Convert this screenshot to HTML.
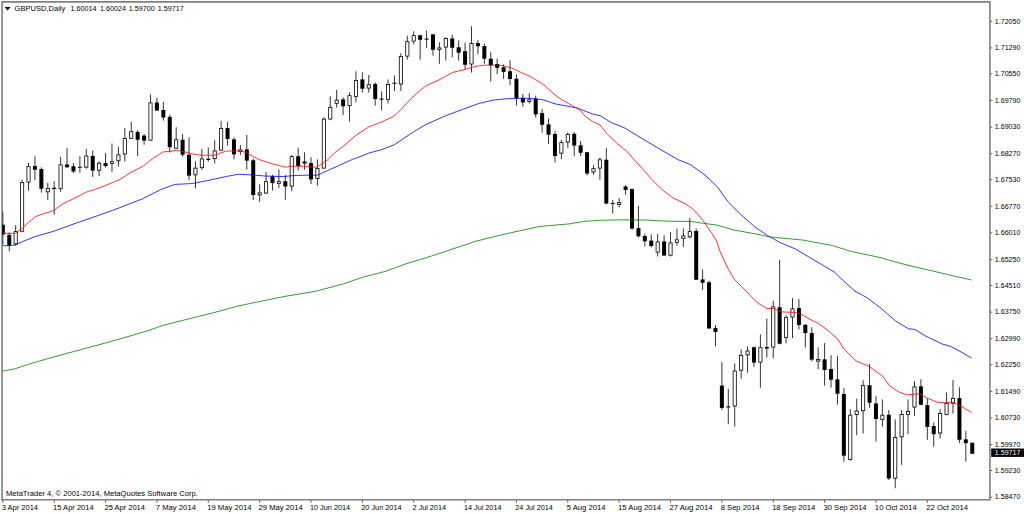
<!DOCTYPE html>
<html lang="en"><head><meta charset="utf-8"><title>GBPUSD,Daily</title>
<style>html,body{margin:0;padding:0;background:#fff;overflow:hidden}svg{display:block}text{font-family:"Liberation Sans", sans-serif;font-size:8.1px;fill:#000}.w{stroke:#000;stroke-width:.8;fill:none}.f{fill:#000;stroke:none}.h{fill:#fff;stroke:#000;stroke-width:.8}.ma{fill:none;stroke-width:.8;stroke-linejoin:round}.ax{stroke:#808080;stroke-width:1.6;fill:none}.tk{stroke:#222;stroke-width:.8}</style></head><body>
<svg width="1024" height="514" viewBox="0 0 1024 514">
<rect width="1024" height="514" fill="#fff"/>
<path class="ax" d="M2.1 500.5V1.9H989.9V499.75"/>
<path class="ax" d="M1.3 499.75H990.7"/>
<clipPath id="cc"><rect x="2.3" y="0" width="990" height="514"/></clipPath><g clip-path="url(#cc)">
<path class="w" d="M2.84 211.60V244.50"/>
<rect class="f" x="0.84" y="224.75" width="4" height="9.85"/>
<path class="w" d="M9.26 232.25V251.50"/>
<rect class="f" x="7.26" y="234.90" width="4" height="10.60"/>
<path class="w" d="M15.68 225.20V245.75"/>
<rect class="h" x="14.08" y="231.60" width="3.2" height="12.30"/>
<path class="w" d="M22.10 179.75V232.25"/>
<rect class="h" x="20.50" y="182.65" width="3.2" height="48.55"/>
<path class="w" d="M28.52 162.75V190.75"/>
<rect class="h" x="26.92" y="166.65" width="3.2" height="15.45"/>
<path class="w" d="M34.94 156.25V180.00"/>
<rect class="f" x="32.94" y="166.00" width="4" height="3.75"/>
<path class="w" d="M41.36 167.50V192.50"/>
<rect class="f" x="39.36" y="169.00" width="4" height="19.75"/>
<path class="w" d="M47.78 183.00V200.00"/>
<rect class="h" x="46.18" y="188.40" width="3.2" height="3.45"/>
<path class="w" d="M54.20 181.25V214.50"/>
<path class="w" style="stroke-width:1.1" d="M52.20 188.40H56.20"/>
<path class="w" d="M60.62 156.90V192.10"/>
<rect class="h" x="59.02" y="164.80" width="3.2" height="23.55"/>
<path class="w" d="M67.04 148.10V168.00"/>
<rect class="f" x="65.04" y="164.40" width="4" height="2.70"/>
<path class="w" d="M73.46 163.10V173.10"/>
<rect class="f" x="71.46" y="166.25" width="4" height="5.25"/>
<path class="w" d="M79.88 156.25V172.75"/>
<path class="w" style="stroke-width:1.1" d="M77.88 167.25H81.88"/>
<path class="w" d="M86.30 149.00V168.75"/>
<rect class="h" x="84.70" y="156.00" width="3.2" height="11.10"/>
<path class="w" d="M92.72 150.60V176.90"/>
<rect class="f" x="90.72" y="155.90" width="4" height="14.70"/>
<path class="w" d="M99.14 161.25V176.25"/>
<rect class="h" x="97.54" y="163.15" width="3.2" height="7.05"/>
<path class="w" d="M105.56 153.10V167.50"/>
<rect class="f" x="103.56" y="163.10" width="4" height="2.90"/>
<path class="w" d="M111.98 143.50V171.90"/>
<rect class="h" x="110.38" y="161.65" width="3.2" height="1.70"/>
<path class="w" d="M118.40 146.90V166.50"/>
<rect class="h" x="116.80" y="154.80" width="3.2" height="6.05"/>
<path class="w" d="M124.82 128.10V161.50"/>
<rect class="h" x="123.22" y="138.50" width="3.2" height="15.50"/>
<path class="w" d="M131.24 121.90V139.00"/>
<rect class="h" x="129.64" y="131.65" width="3.2" height="6.70"/>
<path class="w" d="M137.66 130.25V156.00"/>
<rect class="f" x="135.66" y="131.90" width="4" height="7.85"/>
<path class="w" d="M144.08 134.00V144.75"/>
<rect class="f" x="142.08" y="135.60" width="4" height="5.00"/>
<path class="w" d="M150.50 94.40V140.60"/>
<rect class="h" x="148.90" y="102.90" width="3.2" height="37.30"/>
<path class="w" d="M156.92 97.75V111.00"/>
<rect class="f" x="154.92" y="102.50" width="4" height="8.10"/>
<path class="w" d="M163.34 101.90V120.60"/>
<rect class="f" x="161.34" y="110.00" width="4" height="7.50"/>
<path class="w" d="M169.76 114.75V152.50"/>
<rect class="f" x="167.76" y="116.90" width="4" height="30.35"/>
<path class="w" d="M176.18 127.25V148.60"/>
<rect class="h" x="174.58" y="139.80" width="3.2" height="8.40"/>
<path class="w" d="M182.60 134.00V156.90"/>
<rect class="f" x="180.60" y="139.75" width="4" height="15.00"/>
<path class="w" d="M189.02 137.25V180.00"/>
<rect class="f" x="187.02" y="154.75" width="4" height="20.85"/>
<path class="w" d="M195.44 161.25V188.50"/>
<rect class="h" x="193.84" y="168.15" width="3.2" height="6.70"/>
<path class="w" d="M201.86 149.00V169.75"/>
<rect class="h" x="200.26" y="158.90" width="3.2" height="8.80"/>
<path class="w" d="M208.28 147.50V161.50"/>
<path class="w" style="stroke-width:1.1" d="M206.28 159.40H210.28"/>
<path class="w" d="M214.70 140.25V163.50"/>
<rect class="h" x="213.10" y="151.00" width="3.2" height="7.60"/>
<path class="w" d="M221.12 121.00V150.60"/>
<rect class="h" x="219.52" y="128.50" width="3.2" height="21.70"/>
<path class="w" d="M227.54 121.90V145.60"/>
<rect class="f" x="225.54" y="128.10" width="4" height="10.90"/>
<path class="w" d="M233.96 137.25V159.40"/>
<rect class="f" x="231.96" y="139.40" width="4" height="15.00"/>
<path class="w" d="M240.38 145.00V155.00"/>
<rect class="h" x="238.78" y="149.90" width="3.2" height="1.60"/>
<path class="w" d="M246.80 135.00V169.60"/>
<rect class="f" x="244.80" y="149.40" width="4" height="11.20"/>
<path class="w" d="M253.22 158.50V200.00"/>
<rect class="f" x="251.22" y="160.25" width="4" height="34.75"/>
<path class="w" d="M259.64 184.40V201.90"/>
<rect class="h" x="258.04" y="192.90" width="3.2" height="1.95"/>
<path class="w" d="M266.06 171.90V193.50"/>
<rect class="h" x="264.46" y="181.65" width="3.2" height="11.45"/>
<path class="w" d="M272.48 175.00V190.60"/>
<rect class="f" x="270.48" y="176.25" width="4" height="6.85"/>
<path class="w" d="M278.90 169.40V188.10"/>
<rect class="h" x="277.30" y="181.65" width="3.2" height="1.70"/>
<path class="w" d="M285.32 175.00V199.75"/>
<rect class="f" x="283.32" y="181.25" width="4" height="5.25"/>
<path class="w" d="M291.74 155.00V191.25"/>
<rect class="h" x="290.14" y="156.65" width="3.2" height="29.45"/>
<path class="w" d="M298.16 147.75V170.60"/>
<rect class="f" x="296.16" y="156.25" width="4" height="9.75"/>
<path class="w" d="M304.58 152.25V169.75"/>
<rect class="f" x="302.58" y="161.50" width="4" height="2.00"/>
<path class="w" d="M311.00 157.25V184.00"/>
<rect class="f" x="309.00" y="163.10" width="4" height="16.30"/>
<path class="w" d="M317.42 159.40V185.60"/>
<rect class="h" x="315.82" y="168.50" width="3.2" height="10.10"/>
<path class="w" d="M323.84 117.25V168.50"/>
<rect class="h" x="322.24" y="119.15" width="3.2" height="48.95"/>
<path class="w" d="M330.26 96.25V120.25"/>
<rect class="h" x="328.66" y="107.30" width="3.2" height="11.70"/>
<path class="w" d="M336.68 90.00V107.50"/>
<rect class="h" x="335.08" y="100.15" width="3.2" height="3.20"/>
<path class="w" d="M343.10 97.50V115.00"/>
<rect class="f" x="341.10" y="99.40" width="4" height="6.85"/>
<path class="w" d="M349.52 92.25V121.50"/>
<rect class="h" x="347.92" y="95.65" width="3.2" height="10.05"/>
<path class="w" d="M355.94 71.25V102.25"/>
<rect class="h" x="354.34" y="80.40" width="3.2" height="16.10"/>
<path class="w" d="M362.36 72.25V92.50"/>
<rect class="f" x="360.36" y="79.40" width="4" height="9.35"/>
<path class="w" d="M368.78 75.00V92.50"/>
<rect class="h" x="367.18" y="84.80" width="3.2" height="3.30"/>
<path class="w" d="M375.20 82.25V105.60"/>
<rect class="f" x="373.20" y="84.00" width="4" height="15.00"/>
<path class="w" d="M381.62 91.25V110.40"/>
<path class="w" style="stroke-width:1.1" d="M379.62 99.10H383.62"/>
<path class="w" d="M388.04 79.40V103.50"/>
<rect class="h" x="386.44" y="84.40" width="3.2" height="14.95"/>
<path class="w" d="M394.46 75.40V91.00"/>
<path class="w" style="stroke-width:1.1" d="M392.46 83.30H396.46"/>
<path class="w" d="M400.88 53.30V91.00"/>
<rect class="h" x="399.28" y="56.50" width="3.2" height="27.50"/>
<path class="w" d="M407.30 35.60V59.60"/>
<rect class="h" x="405.70" y="41.65" width="3.2" height="14.45"/>
<path class="w" d="M413.72 31.25V44.40"/>
<rect class="h" x="412.12" y="35.65" width="3.2" height="5.45"/>
<path class="w" d="M420.14 34.75V59.75"/>
<rect class="f" x="418.14" y="35.25" width="4" height="4.50"/>
<path class="w" d="M426.56 30.60V47.75"/>
<path class="w" style="stroke-width:1.1" d="M424.56 39.10H428.56"/>
<path class="w" d="M432.98 34.00V55.60"/>
<rect class="f" x="430.98" y="34.40" width="4" height="15.35"/>
<path class="w" d="M439.40 42.25V63.75"/>
<rect class="h" x="437.80" y="47.90" width="3.2" height="1.45"/>
<path class="w" d="M445.82 37.25V60.60"/>
<rect class="h" x="444.22" y="38.50" width="3.2" height="8.60"/>
<path class="w" d="M452.24 34.75V57.25"/>
<rect class="f" x="450.24" y="38.50" width="4" height="9.25"/>
<path class="w" d="M458.66 40.25V60.60"/>
<rect class="f" x="456.66" y="47.25" width="4" height="5.50"/>
<path class="w" d="M465.08 42.75V69.40"/>
<rect class="f" x="463.08" y="51.25" width="4" height="13.50"/>
<path class="w" d="M471.50 26.25V72.50"/>
<rect class="h" x="469.90" y="43.50" width="3.2" height="20.50"/>
<path class="w" d="M477.92 40.25V54.40"/>
<rect class="f" x="475.92" y="43.10" width="4" height="3.15"/>
<path class="w" d="M484.34 43.50V63.75"/>
<rect class="f" x="482.34" y="46.00" width="4" height="12.75"/>
<path class="w" d="M490.76 52.25V81.50"/>
<rect class="f" x="488.76" y="58.75" width="4" height="6.50"/>
<path class="w" d="M497.18 58.75V74.20"/>
<rect class="f" x="495.18" y="64.00" width="4" height="3.75"/>
<path class="w" d="M503.60 64.40V79.00"/>
<rect class="f" x="501.60" y="67.25" width="4" height="4.65"/>
<path class="w" d="M510.02 60.25V85.00"/>
<rect class="f" x="508.02" y="71.25" width="4" height="7.75"/>
<path class="w" d="M516.44 74.60V105.60"/>
<rect class="f" x="514.44" y="78.75" width="4" height="19.35"/>
<path class="w" d="M522.86 94.00V106.90"/>
<rect class="f" x="520.86" y="98.10" width="4" height="4.40"/>
<path class="w" d="M529.28 93.10V103.50"/>
<rect class="h" x="527.68" y="99.80" width="3.2" height="1.70"/>
<path class="w" d="M535.70 95.60V117.50"/>
<rect class="f" x="533.70" y="98.75" width="4" height="15.65"/>
<path class="w" d="M542.12 109.00V132.75"/>
<rect class="f" x="540.12" y="113.10" width="4" height="11.65"/>
<path class="w" d="M548.54 118.50V144.00"/>
<rect class="f" x="546.54" y="124.40" width="4" height="10.35"/>
<path class="w" d="M554.96 131.00V162.50"/>
<rect class="f" x="552.96" y="134.00" width="4" height="22.00"/>
<path class="w" d="M561.38 140.00V159.40"/>
<rect class="h" x="559.78" y="142.65" width="3.2" height="10.45"/>
<path class="w" d="M567.80 132.25V147.75"/>
<rect class="h" x="566.20" y="134.40" width="3.2" height="7.70"/>
<path class="w" d="M574.22 132.25V156.00"/>
<rect class="f" x="572.22" y="133.75" width="4" height="11.85"/>
<path class="w" d="M580.64 141.00V156.00"/>
<rect class="f" x="578.64" y="145.25" width="4" height="7.50"/>
<path class="w" d="M587.06 151.90V175.60"/>
<rect class="f" x="585.06" y="152.25" width="4" height="21.25"/>
<path class="w" d="M593.48 165.10V174.75"/>
<rect class="h" x="591.88" y="168.70" width="3.2" height="3.30"/>
<path class="w" d="M599.90 157.50V179.75"/>
<rect class="h" x="598.30" y="159.80" width="3.2" height="8.30"/>
<path class="w" d="M606.32 148.10V204.40"/>
<rect class="f" x="604.32" y="159.75" width="4" height="43.75"/>
<path class="w" d="M612.74 200.00V213.60"/>
<path class="w" style="stroke-width:1.1" d="M610.74 203.50H614.74"/>
<path class="w" d="M619.16 198.10V207.40"/>
<rect class="h" x="617.56" y="202.65" width="3.2" height="1.70"/>
<path class="w" d="M625.58 185.00V194.75"/>
<rect class="f" x="623.58" y="186.50" width="4" height="3.50"/>
<path class="w" d="M632.00 188.75V229.75"/>
<rect class="f" x="630.00" y="189.00" width="4" height="39.50"/>
<path class="w" d="M638.42 206.00V237.50"/>
<rect class="f" x="636.42" y="228.10" width="4" height="8.15"/>
<path class="w" d="M644.84 233.50V246.50"/>
<rect class="f" x="642.84" y="236.00" width="4" height="5.25"/>
<path class="w" d="M651.26 234.40V247.50"/>
<rect class="f" x="649.26" y="240.60" width="4" height="5.40"/>
<path class="w" d="M657.68 234.00V256.50"/>
<rect class="h" x="656.08" y="241.90" width="3.2" height="10.20"/>
<path class="w" d="M664.10 235.25V255.60"/>
<rect class="f" x="662.10" y="241.50" width="4" height="14.10"/>
<path class="w" d="M670.52 231.90V256.50"/>
<rect class="h" x="668.92" y="242.90" width="3.2" height="12.30"/>
<path class="w" d="M676.94 228.50V245.60"/>
<rect class="h" x="675.34" y="239.80" width="3.2" height="2.55"/>
<path class="w" d="M683.36 228.50V246.90"/>
<rect class="h" x="681.76" y="236.00" width="3.2" height="2.35"/>
<path class="w" d="M689.78 218.10V238.50"/>
<rect class="h" x="688.18" y="231.65" width="3.2" height="5.20"/>
<path class="w" d="M696.20 228.50V279.75"/>
<rect class="f" x="694.20" y="231.00" width="4" height="48.75"/>
<path class="w" d="M702.62 269.40V290.00"/>
<rect class="f" x="700.62" y="279.40" width="4" height="3.35"/>
<path class="w" d="M709.04 280.60V328.50"/>
<rect class="f" x="707.04" y="282.25" width="4" height="46.25"/>
<path class="w" d="M715.46 325.00V346.25"/>
<rect class="f" x="713.46" y="328.10" width="4" height="3.80"/>
<path class="w" d="M721.88 361.90V409.75"/>
<rect class="f" x="719.88" y="385.60" width="4" height="22.30"/>
<path class="w" d="M728.30 389.00V424.00"/>
<path class="w" style="stroke-width:1.1" d="M726.30 406.90H730.30"/>
<path class="w" d="M734.72 363.50V426.50"/>
<rect class="h" x="733.12" y="371.00" width="3.2" height="35.00"/>
<path class="w" d="M741.14 349.40V378.75"/>
<rect class="h" x="739.54" y="355.40" width="3.2" height="14.80"/>
<path class="w" d="M747.56 346.50V372.75"/>
<rect class="h" x="745.96" y="351.00" width="3.2" height="3.85"/>
<path class="w" d="M753.98 346.50V366.90"/>
<rect class="f" x="751.98" y="347.25" width="4" height="15.35"/>
<path class="w" d="M760.40 334.40V387.75"/>
<rect class="h" x="758.80" y="347.65" width="3.2" height="14.45"/>
<path class="w" d="M766.82 318.50V357.50"/>
<rect class="f" x="764.82" y="347.00" width="4" height="1.60"/>
<path class="w" d="M773.24 300.60V358.10"/>
<rect class="h" x="771.64" y="306.90" width="3.2" height="40.20"/>
<path class="w" d="M779.66 259.75V344.40"/>
<rect class="f" x="777.66" y="307.25" width="4" height="36.50"/>
<path class="w" d="M786.08 315.25V343.50"/>
<rect class="h" x="784.48" y="317.65" width="3.2" height="19.70"/>
<path class="w" d="M792.50 298.10V338.10"/>
<rect class="h" x="790.90" y="308.90" width="3.2" height="8.20"/>
<path class="w" d="M798.92 299.00V329.40"/>
<rect class="f" x="796.92" y="308.10" width="4" height="16.90"/>
<path class="w" d="M805.34 324.00V347.50"/>
<rect class="f" x="803.34" y="324.75" width="4" height="8.35"/>
<path class="w" d="M811.76 327.25V361.25"/>
<rect class="f" x="809.76" y="333.00" width="4" height="26.60"/>
<path class="w" d="M818.18 347.25V369.20"/>
<rect class="h" x="816.58" y="359.40" width="3.2" height="1.70"/>
<path class="w" d="M824.60 343.10V385.60"/>
<rect class="f" x="822.60" y="359.40" width="4" height="10.60"/>
<path class="w" d="M831.02 355.10V387.50"/>
<rect class="f" x="829.02" y="369.00" width="4" height="10.75"/>
<path class="w" d="M837.44 356.00V404.60"/>
<rect class="f" x="835.44" y="379.40" width="4" height="14.35"/>
<path class="w" d="M843.86 388.10V461.75"/>
<rect class="f" x="841.86" y="394.00" width="4" height="61.70"/>
<path class="w" d="M850.28 409.20V460.60"/>
<rect class="h" x="848.68" y="415.15" width="3.2" height="44.45"/>
<path class="w" d="M856.70 398.75V435.25"/>
<rect class="h" x="855.10" y="411.00" width="3.2" height="3.60"/>
<path class="w" d="M863.12 380.25V433.50"/>
<rect class="h" x="861.52" y="385.65" width="3.2" height="25.05"/>
<path class="w" d="M869.54 364.00V407.75"/>
<rect class="f" x="867.54" y="385.25" width="4" height="17.50"/>
<path class="w" d="M875.96 396.25V441.55"/>
<rect class="f" x="873.96" y="403.50" width="4" height="15.50"/>
<path class="w" d="M882.38 399.40V426.50"/>
<rect class="h" x="880.78" y="415.15" width="3.2" height="4.20"/>
<path class="w" d="M888.80 410.00V480.00"/>
<rect class="f" x="886.80" y="414.75" width="4" height="63.75"/>
<path class="w" d="M895.22 419.40V488.25"/>
<rect class="h" x="893.62" y="437.50" width="3.2" height="40.70"/>
<path class="w" d="M901.64 410.00V464.90"/>
<rect class="h" x="900.04" y="414.40" width="3.2" height="22.45"/>
<path class="w" d="M908.06 399.40V434.40"/>
<rect class="h" x="906.46" y="411.50" width="3.2" height="2.85"/>
<path class="w" d="M914.48 381.10V415.80"/>
<rect class="h" x="912.88" y="386.90" width="3.2" height="20.10"/>
<path class="w" d="M920.90 379.20V405.30"/>
<rect class="f" x="918.90" y="386.40" width="4" height="18.35"/>
<path class="w" d="M927.32 398.30V439.80"/>
<rect class="f" x="925.32" y="405.10" width="4" height="21.80"/>
<path class="w" d="M933.74 422.60V446.55"/>
<rect class="f" x="931.74" y="426.00" width="4" height="8.20"/>
<path class="w" d="M940.16 409.20V438.50"/>
<rect class="h" x="938.56" y="413.50" width="3.2" height="19.50"/>
<path class="w" d="M946.58 392.25V415.20"/>
<rect class="h" x="944.98" y="403.50" width="3.2" height="10.85"/>
<path class="w" d="M953.00 380.00V413.60"/>
<rect class="h" x="951.40" y="398.50" width="3.2" height="4.60"/>
<path class="w" d="M959.42 387.25V443.10"/>
<rect class="f" x="957.42" y="398.10" width="4" height="41.65"/>
<path class="w" d="M965.84 430.80V461.50"/>
<rect class="f" x="963.84" y="439.40" width="4" height="3.70"/>
<path class="w" d="M972.26 442.75V454.00"/>
<rect class="f" x="970.26" y="442.75" width="4" height="11.00"/>
<polyline class="ma" stroke="#008000" points="2.5,371.2 15.0,368.8 30.0,363.8 50.0,358.0 75.0,351.2 100.0,344.5 125.0,337.5 150.0,330.0 162.5,325.5 187.5,319.2 212.5,313.0 237.5,306.2 256.0,302.2 286.0,296.2 316.0,291.2 343.5,283.8 363.5,277.0 386.0,271.2 406.0,263.8 431.0,256.2 451.0,249.5 476.0,241.2 496.0,236.2 512.0,232.5 539.3,226.5 570.0,223.8 582.5,221.5 601.2,220.2 620.0,219.8 645.0,220.0 667.5,221.2 691.2,221.5 705.0,223.5 716.2,225.0 735.0,230.2 755.0,233.8 770.0,237.0 802.5,240.0 832.5,245.5 850.0,251.2 880.0,257.5 896.0,262.2 914.8,266.9 933.5,271.2 952.2,275.6 971.6,280.0"/>
<polyline class="ma" stroke="#0000ff" points="2.5,245.8 12.5,245.4 15.6,244.8 22.5,241.6 35.0,236.6 53.8,231.2 75.0,223.5 95.0,216.6 112.5,210.4 128.0,204.5 142.5,198.8 161.2,189.4 175.0,184.4 192.5,183.5 207.5,180.6 226.2,176.5 238.8,174.2 252.5,175.0 265.0,176.0 283.8,176.6 292.5,175.6 305.0,175.2 317.5,175.2 327.5,170.6 340.0,165.0 352.5,159.4 356.2,158.1 368.8,153.1 381.2,149.8 393.8,145.0 400.0,141.0 412.5,132.5 425.0,125.0 443.8,116.5 462.5,109.4 478.8,103.5 493.8,100.0 506.2,98.8 518.8,98.4 522.5,98.1 533.8,98.5 543.8,100.0 555.0,103.8 567.5,106.2 577.5,108.1 582.5,110.0 592.5,114.0 600.0,115.6 611.2,122.5 625.0,128.1 636.2,135.0 648.8,142.5 658.0,148.1 678.8,160.0 690.0,164.4 698.0,170.0 705.0,175.0 717.5,187.0 727.5,201.2 740.0,213.8 755.0,227.0 767.5,235.5 780.0,242.5 795.0,248.8 807.5,256.2 822.5,265.0 835.0,272.5 842.5,280.0 855.0,291.2 867.5,298.0 880.0,307.5 890.0,316.2 896.0,321.2 902.2,325.0 908.5,328.8 914.8,329.4 926.0,336.2 942.2,344.0 951.0,346.5 961.0,351.9 971.6,358.1"/>
<polyline class="ma" stroke="#ff0000" points="2.5,232.9 9.4,233.5 15.6,233.2 22.5,227.9 28.8,222.2 35.6,216.6 41.2,214.5 47.5,212.5 53.8,210.4 61.2,204.8 67.5,201.6 73.8,198.5 80.0,195.4 87.5,191.6 95.0,189.5 103.8,186.2 112.5,182.5 120.0,179.5 130.0,172.8 142.5,166.5 152.5,158.8 163.1,151.9 170.0,151.4 176.2,150.2 185.0,151.9 190.0,153.5 200.0,155.2 215.0,155.2 220.0,153.1 226.2,151.1 238.8,150.8 246.2,152.3 252.5,156.2 258.8,159.4 271.2,163.5 282.5,166.5 286.2,167.2 290.0,166.2 302.5,166.2 310.0,166.9 316.2,167.2 321.2,164.4 327.5,159.8 335.0,152.5 343.8,146.0 356.2,135.0 368.8,126.9 381.2,122.2 393.8,116.2 400.0,110.6 407.5,102.2 416.2,93.8 426.2,85.6 438.8,80.0 452.5,72.5 465.0,69.4 475.0,66.5 483.8,65.2 496.2,65.2 502.5,65.6 511.2,67.8 521.2,72.5 531.2,76.9 543.8,84.8 555.0,95.0 561.2,99.4 571.2,105.0 580.0,110.0 585.0,116.2 592.5,121.5 600.0,125.0 607.5,134.4 617.5,143.8 627.5,151.9 634.4,160.0 642.5,168.8 651.2,178.8 662.5,190.0 672.5,197.5 686.2,204.4 692.5,208.8 697.5,213.8 705.0,223.1 716.2,240.0 719.4,250.0 726.2,265.0 733.8,278.8 745.0,290.0 755.0,300.6 760.0,304.4 766.9,308.5 773.8,308.5 781.2,311.9 796.2,312.5 802.5,315.0 810.0,319.4 818.0,323.1 825.0,328.1 837.5,338.8 843.8,348.8 852.5,357.5 856.2,361.0 868.8,366.2 882.5,376.2 890.0,386.2 900.0,392.5 907.2,394.8 919.8,393.8 927.2,398.1 937.2,402.2 946.0,402.8 952.2,401.9 961.0,406.2 971.6,412.5"/>
</g>
<path class="tk" d="M990.6 21.25H992.3"/>
<text x="994.8" y="23.50" lengthAdjust="spacingAndGlyphs" textLength="25.6">1.72050</text>
<path class="tk" d="M990.6 47.89H992.3"/>
<text x="994.8" y="50.14" lengthAdjust="spacingAndGlyphs" textLength="25.6">1.71290</text>
<path class="tk" d="M990.6 73.82H992.3"/>
<text x="994.8" y="76.07" lengthAdjust="spacingAndGlyphs" textLength="25.6">1.70550</text>
<path class="tk" d="M990.6 100.46H992.3"/>
<text x="994.8" y="102.71" lengthAdjust="spacingAndGlyphs" textLength="25.6">1.69790</text>
<path class="tk" d="M990.6 127.10H992.3"/>
<text x="994.8" y="129.35" lengthAdjust="spacingAndGlyphs" textLength="25.6">1.69030</text>
<path class="tk" d="M990.6 153.73H992.3"/>
<text x="994.8" y="155.98" lengthAdjust="spacingAndGlyphs" textLength="25.6">1.68270</text>
<path class="tk" d="M990.6 179.67H992.3"/>
<text x="994.8" y="181.92" lengthAdjust="spacingAndGlyphs" textLength="25.6">1.67530</text>
<path class="tk" d="M990.6 206.31H992.3"/>
<text x="994.8" y="208.56" lengthAdjust="spacingAndGlyphs" textLength="25.6">1.66770</text>
<path class="tk" d="M990.6 232.94H992.3"/>
<text x="994.8" y="235.19" lengthAdjust="spacingAndGlyphs" textLength="25.6">1.66010</text>
<path class="tk" d="M990.6 259.58H992.3"/>
<text x="994.8" y="261.83" lengthAdjust="spacingAndGlyphs" textLength="25.6">1.65250</text>
<path class="tk" d="M990.6 285.51H992.3"/>
<text x="994.8" y="287.76" lengthAdjust="spacingAndGlyphs" textLength="25.6">1.64510</text>
<path class="tk" d="M990.6 312.15H992.3"/>
<text x="994.8" y="314.40" lengthAdjust="spacingAndGlyphs" textLength="25.6">1.63750</text>
<path class="tk" d="M990.6 338.79H992.3"/>
<text x="994.8" y="341.04" lengthAdjust="spacingAndGlyphs" textLength="25.6">1.62990</text>
<path class="tk" d="M990.6 364.72H992.3"/>
<text x="994.8" y="366.97" lengthAdjust="spacingAndGlyphs" textLength="25.6">1.62250</text>
<path class="tk" d="M990.6 391.36H992.3"/>
<text x="994.8" y="393.61" lengthAdjust="spacingAndGlyphs" textLength="25.6">1.61490</text>
<path class="tk" d="M990.6 418.00H992.3"/>
<text x="994.8" y="420.25" lengthAdjust="spacingAndGlyphs" textLength="25.6">1.60730</text>
<path class="tk" d="M990.6 444.63H992.3"/>
<text x="994.8" y="446.88" lengthAdjust="spacingAndGlyphs" textLength="25.6">1.59970</text>
<path class="tk" d="M990.6 470.57H992.3"/>
<text x="994.8" y="472.82" lengthAdjust="spacingAndGlyphs" textLength="25.6">1.59230</text>
<path class="tk" d="M990.6 497.21H992.3"/>
<text x="994.8" y="499.46" lengthAdjust="spacingAndGlyphs" textLength="25.6">1.58470</text>
<rect x="991.2" y="448.5" width="33" height="8.4" fill="#000"/>
<text x="994.8" y="455.4" lengthAdjust="spacingAndGlyphs" textLength="25.6" style="fill:#fff">1.59717</text>
<path class="tk" d="M2.84 500.4V502.7"/>
<text x="1.74" y="509.6" lengthAdjust="spacingAndGlyphs" textLength="36.3">3 Apr 2014</text>
<path class="tk" d="M54.20 500.4V502.7"/>
<text x="53.10" y="509.6" lengthAdjust="spacingAndGlyphs" textLength="40.5">15 Apr 2014</text>
<path class="tk" d="M105.56 500.4V502.7"/>
<text x="104.46" y="509.6" lengthAdjust="spacingAndGlyphs" textLength="40.5">25 Apr 2014</text>
<path class="tk" d="M156.92 500.4V502.7"/>
<text x="155.82" y="509.6" lengthAdjust="spacingAndGlyphs" textLength="40.1">7 May 2014</text>
<path class="tk" d="M208.28 500.4V502.7"/>
<text x="207.18" y="509.6" lengthAdjust="spacingAndGlyphs" textLength="44.3">19 May 2014</text>
<path class="tk" d="M259.64 500.4V502.7"/>
<text x="258.54" y="509.6" lengthAdjust="spacingAndGlyphs" textLength="44.3">29 May 2014</text>
<path class="tk" d="M311.00 500.4V502.7"/>
<text x="309.90" y="509.6" lengthAdjust="spacingAndGlyphs" textLength="40.3">10 Jun 2014</text>
<path class="tk" d="M362.36 500.4V502.7"/>
<text x="361.26" y="509.6" lengthAdjust="spacingAndGlyphs" textLength="40.3">20 Jun 2014</text>
<path class="tk" d="M413.72 500.4V502.7"/>
<text x="412.62" y="509.6" lengthAdjust="spacingAndGlyphs" textLength="33.3">2 Jul 2014</text>
<path class="tk" d="M465.08 500.4V502.7"/>
<text x="463.98" y="509.6" lengthAdjust="spacingAndGlyphs" textLength="37.5">14 Jul 2014</text>
<path class="tk" d="M516.44 500.4V502.7"/>
<text x="515.34" y="509.6" lengthAdjust="spacingAndGlyphs" textLength="37.5">24 Jul 2014</text>
<path class="tk" d="M567.80 500.4V502.7"/>
<text x="566.70" y="509.6" lengthAdjust="spacingAndGlyphs" textLength="38.8">5 Aug 2014</text>
<path class="tk" d="M619.16 500.4V502.7"/>
<text x="618.06" y="509.6" lengthAdjust="spacingAndGlyphs" textLength="43.1">15 Aug 2014</text>
<path class="tk" d="M670.52 500.4V502.7"/>
<text x="669.42" y="509.6" lengthAdjust="spacingAndGlyphs" textLength="43.1">27 Aug 2014</text>
<path class="tk" d="M721.88 500.4V502.7"/>
<text x="720.78" y="509.6" lengthAdjust="spacingAndGlyphs" textLength="38.8">8 Sep 2014</text>
<path class="tk" d="M773.24 500.4V502.7"/>
<text x="772.14" y="509.6" lengthAdjust="spacingAndGlyphs" textLength="43.1">18 Sep 2014</text>
<path class="tk" d="M824.60 500.4V502.7"/>
<text x="823.50" y="509.6" lengthAdjust="spacingAndGlyphs" textLength="43.1">30 Sep 2014</text>
<path class="tk" d="M875.96 500.4V502.7"/>
<text x="874.86" y="509.6" lengthAdjust="spacingAndGlyphs" textLength="41.8">10 Oct 2014</text>
<path class="tk" d="M927.32 500.4V502.7"/>
<text x="926.22" y="509.6" lengthAdjust="spacingAndGlyphs" textLength="41.8">22 Oct 2014</text>
<path d="M4.7 6.9H10.5L7.6 10.6Z" fill="#000"/>
<text x="14.5" y="11.3" lengthAdjust="spacingAndGlyphs" textLength="50.8">GBPUSD,Daily</text>
<text x="70.6" y="11.3" lengthAdjust="spacingAndGlyphs" textLength="26">1.60014</text>
<text x="99.9" y="11.3" lengthAdjust="spacingAndGlyphs" textLength="26">1.60024</text>
<text x="128.8" y="11.3" lengthAdjust="spacingAndGlyphs" textLength="26">1.59700</text>
<text x="157.7" y="11.3" lengthAdjust="spacingAndGlyphs" textLength="26">1.59717</text>
<text x="6" y="496.3" lengthAdjust="spacingAndGlyphs" textLength="191.8">MetaTrader 4, © 2001-2014, MetaQuotes Software Corp.</text>
</svg></body></html>
